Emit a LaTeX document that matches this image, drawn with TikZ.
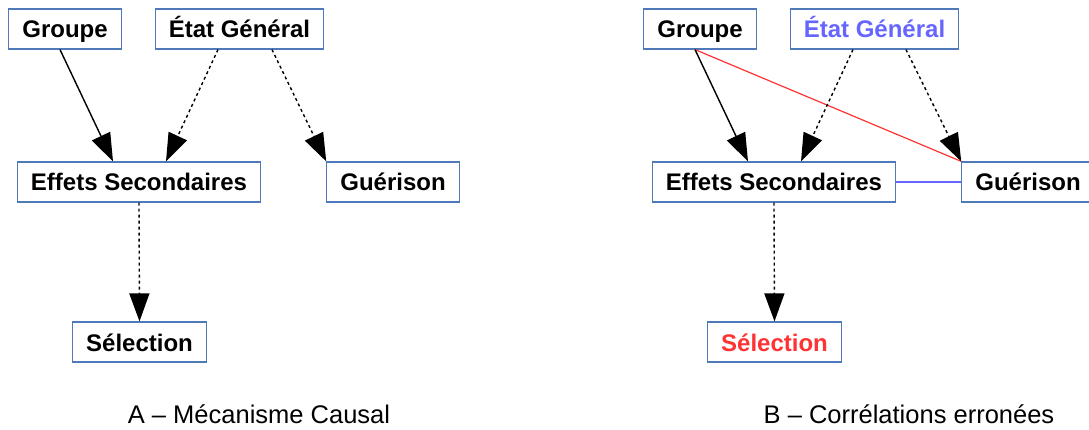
\documentclass[tikz,border=0pt]{standalone}
\usepackage{fontspec}
\setmainfont{Liberation Sans}
\usetikzlibrary{arrows.meta}
\definecolor{boxline}{HTML}{4F79B8}
\definecolor{fadeblue}{HTML}{6666FF}
\definecolor{wrongred}{HTML}{FF3333}
\tikzset{
  var/.style={draw=boxline, line width=1.2pt, fill=white, minimum height=40pt,
    inner xsep=13.5pt, text height=20pt, text depth=2pt,
    font=\fontsize{24}{28}\selectfont\bfseries},
  cause/.style={-{Triangle[length=28pt,width=20pt]}, line width=1.4pt},
  hidden/.style={cause, dash pattern=on 3pt off 3pt},
  caption/.style={font=\fontsize{25.5}{30}\selectfont}
}
\begin{document}
\begin{tikzpicture}[x=1pt,y=-1pt]
\useasboundingbox (0,0) rectangle (1089,430);

%A - causal
\node[var] (grpA) at (65,29) {Groupe};
\node[var] (etatA) at (239.5,29) {État Général};
\node[var] (effA) at (139,182) {Effets Secondaires};
\node[var] (guerA) at (393,182) {Guérison};
\node[var] (selA) at (139.5,342) {Sélection};

\draw[cause] ([xshift=-5pt]grpA.south) -- ([xshift=-26pt]effA.north);
\draw[hidden] ([xshift=-21.5pt]etatA.south) -- ([xshift=27pt]effA.north);
\draw[hidden] ([xshift=32.5pt]etatA.south) -- (guerA.north west);
\draw[hidden] (effA.south) -- (selA.north);

\node[caption] (capA) at (259,414) {A -- Mécanisme Causal};

%B - correlations
\node[var] (grpB) at (700,29) {Groupe};
\node[var, text=fadeblue] (etatB) at (874.5,29) {État Général};
\node[var] (effB) at (774,182) {Effets Secondaires};
\node[var] (guerB) at (1028,182) {Guérison};
\node[var, text=wrongred] (selB) at (774.5,342) {Sélection};

\draw[wrongred, line width=1.2pt] ([xshift=-5pt]grpB.south) -- (guerB.north west);
\draw[fadeblue, line width=1.2pt] (effB.east) -- (guerB.west);
\draw[cause] ([xshift=-5pt]grpB.south) -- ([xshift=-26pt]effB.north);
\draw[hidden] ([xshift=-21.5pt]etatB.south) -- ([xshift=27pt]effB.north);
\draw[hidden] ([xshift=31.5pt]etatB.south) -- (guerB.north west);
\draw[hidden] (effB.south) -- (selB.north);

\node[caption] (capB) at (909,414) {B -- Corrélations erronées};

\end{tikzpicture}
\end{document}
